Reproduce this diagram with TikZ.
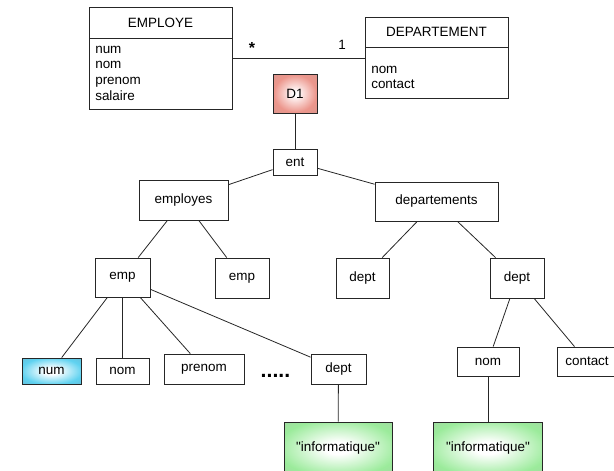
\documentclass[tikz,border=0pt]{standalone}
\usepackage{fontspec}
\setmainfont{Liberation Sans}
\usepackage{tikz}
\usetikzlibrary{positioning}
\definecolor{rosy}{RGB}{200,148,142}
\definecolor{glowred}{RGB}{236,150,140}
\definecolor{steel}{RGB}{108,165,190}
\definecolor{glowcyan}{RGB}{95,210,240}
\definecolor{sage}{RGB}{172,192,172}
\definecolor{glowgreen}{RGB}{155,235,155}
\pgfdeclareradialshading{redglow}{\pgfpoint{0bp}{0bp}}{color(0bp)=(white);color(4bp)=(white!90!pink);color(24bp)=(glowred);color(50bp)=(rosy)}
\pgfdeclareradialshading{blueglow}{\pgfpoint{0bp}{0bp}}{color(0bp)=(white);color(6bp)=(white);color(26bp)=(glowcyan);color(50bp)=(steel)}
\pgfdeclareradialshading{greenglow}{\pgfpoint{0bp}{0bp}}{color(0bp)=(white);color(6bp)=(white);color(28bp)=(glowgreen);color(50bp)=(sage)}

\begin{document}
\begin{tikzpicture}[x=0.75pt,y=-0.75pt,
  box/.style={draw=black!85,line width=0.65pt,inner sep=0pt,font=\fontsize{10.1}{12}\selectfont},
  lnk/.style={draw=black!85,line width=0.6pt}]
\useasboundingbox (0,0) rectangle (614,471);
\clip (0,0) rectangle (614,471);
% classes
\node[box,minimum width=107.25pt,minimum height=23.25pt] (emphead) at (160.5,22.5) {EMPLOYE};
\node[box,minimum width=107.25pt,minimum height=53.25pt] (empbody) at (160.5,73.5) {};
\node[anchor=base west,inner sep=0pt,align=left,font=\fontsize{10.1}{11.75}\selectfont] (empattr) at (95,100) {num\\nom\\prenom\\salaire};
\node[box,minimum width=107.25pt,minimum height=22.5pt] (dephead) at (436.5,32) {DEPARTEMENT};
\node[box,minimum width=107.25pt,minimum height=38.25pt] (depbody) at (436.5,72.5) {};
\node[anchor=base west,inner sep=0pt,align=left,font=\fontsize{10.1}{11}\selectfont] (depattr) at (371,88) {nom\\contact};
\coordinate (assoc) at (232,58);
\draw[lnk] (assoc) -- (assoc -| depbody.west);
\node[font=\fontsize{12}{12}\selectfont\bfseries] (many) at (252,48) {*};
\node[font=\fontsize{10.1}{12}\selectfont] (one) at (342,45) {1};
% tree
\node[box,minimum width=33pt,minimum height=29.25pt,shading=redglow] (d1) at (295,93.5) {D1};
\node[box,minimum width=33pt,minimum height=19.5pt] (ent) at (295,162) {ent};
\node[box,minimum width=66.75pt,minimum height=30pt] (employes) at (183.5,200) {employes};
\node[box,minimum width=92.25pt,minimum height=29.25pt] (departements) at (436.5,201.5) {departements};
\node[box,minimum width=41.25pt,minimum height=29.25pt] (emp) at (122.5,277.5) {emp};
\node[box,minimum width=40.5pt,minimum height=30pt] (emp2) at (242,278) {emp};
\node[box,minimum width=39.75pt,minimum height=30pt] (depta) at (362.5,278) {dept};
\node[box,minimum width=40.5pt,minimum height=30pt] (deptb) at (517,278) {dept};
\node[box,minimum width=44.25pt,minimum height=19.5pt,shading=blueglow] (num) at (51.5,371) {num};
\node[box,minimum width=39.75pt,minimum height=19.5pt] (nom) at (122.5,371) {nom};
\node[box,minimum width=60pt,minimum height=22.5pt] (prenom) at (204,369) {prenom};
\node[font=\fontsize{16}{16}\selectfont\bfseries] (dots) at (275.5,376) {.....};
\node[box,minimum width=41.25pt,minimum height=22.5pt] (deptc) at (338.5,369) {dept};
\node[box,minimum width=81pt,minimum height=39pt,shading=greenglow] (info1) at (338,448) {\textquotedbl informatique\textquotedbl};
\node[box,minimum width=46.5pt,minimum height=21.75pt] (nomr) at (488,361.5) {nom};
\node[box,minimum width=45pt,minimum height=21.75pt] (contact) at (587,361.5) {contact};
\node[box,minimum width=81.75pt,minimum height=39pt,shading=greenglow] (info2) at (488,448) {\textquotedbl informatique\textquotedbl};
\draw[lnk] (d1) -- (ent);
\draw[lnk] (ent) -- (employes);
\draw[lnk] (ent) -- (departements);
\draw[lnk] (employes) -- (emp);
\draw[lnk] (employes) -- (emp2);
\draw[lnk] (departements) -- (depta);
\draw[lnk] (departements) -- (deptb);
\foreach \leaf in {num,nom,prenom,deptc} \draw[lnk] (emp) -- (\leaf);
\draw[lnk] (deptc) -- (info1);
\draw[lnk] (deptb) -- (nomr);
\draw[lnk] (deptb) -- (contact);
\draw[lnk] (nomr) -- (info2);
\end{tikzpicture}
\end{document}
